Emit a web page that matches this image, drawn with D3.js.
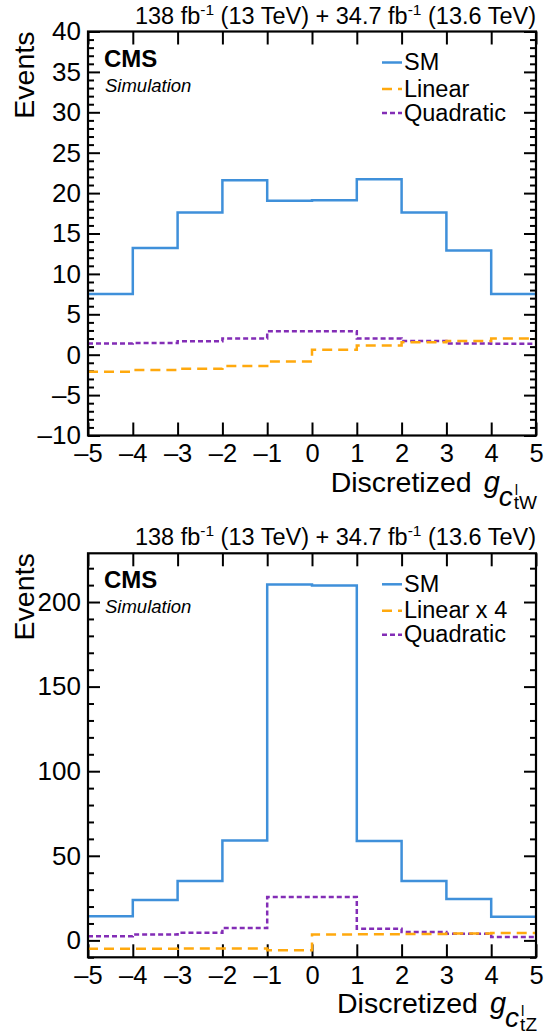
<!DOCTYPE html>
<html>
<head>
<meta charset="utf-8">
<script src="https://cdn.jsdelivr.net/npm/d3@7"></script>
<style>
  html, body { margin: 0; padding: 0; background: #fff; }
  svg { display: block; }
  text { font-family: "Liberation Sans", Arial, Helvetica, sans-serif; fill: #000; }
</style>
</head>
<body>
<svg id="chart" width="560" height="1035"></svg>
<script>
// ---------------- data ----------------
const binEdges = [-5, -4, -3, -2, -1, 0, 1, 2, 3, 4, 5];
const xTickValues = [-5, -4, -3, -2, -1, 0, 1, 2, 3, 4, 5];

// panel 1 : c_tW
const smTW   = [7.5, 13.2, 17.6, 21.6, 19.05, 19.1, 21.7, 17.6, 12.9, 7.5];
const linTW  = [-2.1, -1.9, -1.75, -1.4, -0.85, 0.6, 1.15, 1.55, 1.7, 2.0];
const quadTW = [1.4, 1.45, 1.65, 2.0, 2.9, 2.9, 2.0, 1.7, 1.4, 1.35];
const yDomainTW = [-10, 40];
const yMajorTW = [-10, -5, 0, 5, 10, 15, 20, 25, 30, 35, 40];
const yMinorStepTW = 1;
const legendTW = ["SM", "Linear", "Quadratic"];

// panel 2 : c_tZ
const smTZ   = [14.3, 23.9, 35.1, 59.1, 210.3, 209.8, 58.7, 35.1, 24.4, 14.0];
const linTZ  = [-4.9, -4.9, -4.8, -4.8, -5.9, 3.5, 3.6, 3.8, 4.0, 4.3]; // Linear x 4
const quadTZ = [2.4, 3.5, 4.5, 7.3, 25.6, 25.6, 6.9, 4.9, 3.9, 2.0];
const yDomainTZ = [-10, 228.8];
const yMajorTZ = [0, 50, 100, 150, 200];
const yMinorStepTZ = 10;
const legendTZ = ["SM", "Linear x 4", "Quadratic"];

const lumiText = ["138 fb", "-1", " (13 TeV) + 34.7 fb", "-1", " (13.6 TeV)"];

// ---------------- styles ----------------
const colors = { sm: "#3f90da", lin: "#ffa90e", quad: "#832db6" };
const dashes = { sm: null, lin: "10,6", quad: "5,3" };

const svg = d3.select("#chart");
const L = 88, R = 536;

function histPath(x, y, vals) {
  let p = "";
  vals.forEach((v, i) => {
    const x0 = x(binEdges[i]), x1 = x(binEdges[i + 1]), yy = y(v);
    p += (i === 0 ? "M" + x0 + "," + yy : "V" + yy) + "H" + x1;
  });
  return p;
}

function drawPanel(cfg) {
  const top = cfg.top, bot = cfg.top + 404;
  const g = svg.append("g");
  const x = d3.scaleLinear().domain([-5, 5]).range([L, R]);
  const y = d3.scaleLinear().domain(cfg.yDomain).range([bot, top]);

  // minor y ticks
  const minor = d3.range(Math.ceil(cfg.yDomain[0] / cfg.minorStep) * cfg.minorStep,
                         cfg.yDomain[1] + 1e-9, cfg.minorStep)
                  .filter(v => !cfg.yMajor.includes(v));
  const yMinL = d3.axisLeft(y).tickValues(minor).tickSize(-6).tickFormat("");
  const yMinR = d3.axisRight(y).tickValues(minor).tickSize(-6).tickFormat("");
  g.append("g").attr("transform", `translate(${L},0)`).call(yMinL);
  g.append("g").attr("transform", `translate(${R},0)`).call(yMinR);

  const yMajL = d3.axisLeft(y).tickValues(cfg.yMajor).tickSize(-12).tickPadding(7)
                  .tickFormat(d => d < 0 ? "\u2013" + Math.abs(d) : d);
  const yMajR = d3.axisRight(y).tickValues(cfg.yMajor).tickSize(-12).tickFormat("");
  g.append("g").attr("class", "yl").attr("transform", `translate(${L},0)`).call(yMajL);
  g.append("g").attr("transform", `translate(${R},0)`).call(yMajR);

  const xB = d3.axisBottom(x).tickValues(xTickValues).tickSize(-13).tickPadding(8)
               .tickFormat(d => d < 0 ? "\u2013" + Math.abs(d) : d);
  const xT = d3.axisTop(x).tickValues(xTickValues).tickSize(-13).tickFormat("");
  g.append("g").attr("class", "xl").attr("transform", `translate(0,${bot})`).call(xB);
  g.append("g").attr("transform", `translate(0,${top})`).call(xT);

  g.selectAll(".domain").remove();
  g.selectAll(".tick line").attr("stroke", "#000").attr("stroke-width", 2);
  g.selectAll(".yl .tick text").attr("font-size", 26).attr("fill", "#000")
    .attr("font-family", "Liberation Sans, Arial, sans-serif");
  g.selectAll(".xl .tick text").attr("font-size", 25.5).attr("fill", "#000")
    .attr("font-family", "Liberation Sans, Arial, sans-serif").attr("dy", "0.72em");

  // histograms
  const series = [["quad", cfg.quad], ["lin", cfg.lin], ["sm", cfg.sm]];
  series.forEach(([k, vals]) => {
    g.append("path").attr("d", histPath(x, y, vals))
      .attr("fill", "none").attr("stroke", colors[k]).attr("stroke-width", 2.5)
      .attr("stroke-dasharray", dashes[k]);
  });

  // frame
  g.append("rect").attr("x", L).attr("y", top).attr("width", R - L).attr("height", bot - top)
    .attr("fill", "none").attr("stroke", "#000").attr("stroke-width", 2.2);

  // header
  const h = g.append("text").attr("x", R).attr("y", top - 8).attr("text-anchor", "end")
    .attr("font-size", 23.5);
  lumiText.forEach((s, i) => {
    const sup = i % 2 === 1;
    h.append("tspan").text(s).attr("font-size", sup ? 15.5 : 23.5)
      .attr("dy", sup ? -9 : (i > 0 ? 9 : 0));
  });

  // CMS label
  g.append("text").attr("x", 104).attr("y", top + 35).attr("font-size", 24)
    .attr("font-weight", "bold").text("CMS");
  g.append("text").attr("x", 105).attr("y", top + 60).attr("font-size", 18.5)
    .attr("font-style", "italic").text("Simulation");

  // legend
  const keys = ["sm", "lin", "quad"];
  const ly = [top + 38.5, top + 65, top + 89];
  cfg.legend.forEach((lab, i) => {
    g.append("line").attr("x1", 382).attr("x2", 402)
      .attr("y1", ly[i] - 7.5).attr("y2", ly[i] - 7.5)
      .attr("stroke", colors[keys[i]]).attr("stroke-width", 2.5)
      .attr("stroke-dasharray", dashes[keys[i]]);
    g.append("text").attr("x", 404).attr("y", ly[i]).attr("font-size", 23.5).text(lab);
  });

  // y title
  g.append("text").attr("transform", `translate(34,${top}) rotate(-90)`)
    .attr("text-anchor", "end").attr("font-size", 28.5).text("Events");

  // x title: Discretized g_{c^{l}_{sub}}
  const base = bot + 56;
  const sub = g.append("text").attr("x", R + 1).attr("y", bot + 73.5).attr("text-anchor", "end")
    .attr("font-size", 19).text(cfg.sub);
  const subW = sub.node().getComputedTextLength();
  const subX = R + 1 - subW;
  g.append("text").attr("x", subX + 1).attr("y", bot + 59).attr("font-size", 15).text("l");
  const c = g.append("text").attr("x", subX - 1).attr("y", bot + 70).attr("text-anchor", "end")
    .attr("font-size", 28).attr("font-style", "italic").text("c");
  const cX = subX - 1 - c.node().getComputedTextLength();
  const gg = g.append("text").attr("x", cX + 1).attr("y", base).attr("text-anchor", "end")
    .attr("font-size", 29).attr("font-style", "italic").text("g");
  const gX = cX + 1 - gg.node().getComputedTextLength();
  g.append("text").attr("x", gX - 12).attr("y", base).attr("text-anchor", "end")
    .attr("font-size", 28.5).text("Discretized");
}

drawPanel({ top: 31.5, yDomain: yDomainTW, yMajor: yMajorTW, minorStep: yMinorStepTW,
  sm: smTW, lin: linTW, quad: quadTW, legend: legendTW, sub: "tW" });
drawPanel({ top: 553.3, yDomain: yDomainTZ, yMajor: yMajorTZ, minorStep: yMinorStepTZ,
  sm: smTZ, lin: linTZ, quad: quadTZ, legend: legendTZ, sub: "tZ" });
</script>
</body>
</html>
